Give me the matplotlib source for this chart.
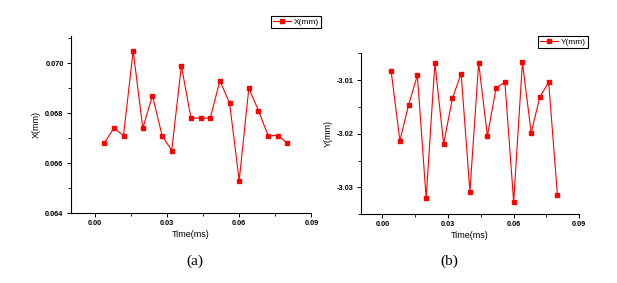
import matplotlib
matplotlib.use("Agg")
import matplotlib.pyplot as plt
from matplotlib.ticker import MultipleLocator

# time axis, shared by both panels
time_ms = [0.004, 0.008, 0.012, 0.016, 0.020, 0.024, 0.028, 0.032, 0.036, 0.040,
           0.044, 0.048, 0.052, 0.056, 0.060, 0.064, 0.068, 0.072, 0.076, 0.080]

# displacement
x_mm = [0.0668, 0.0674, 0.0671, 0.0705, 0.0674, 0.0687, 0.0671, 0.0665, 0.0699, 0.0678,
        0.0678, 0.0678, 0.0693, 0.0684, 0.0653, 0.0690, 0.0681, 0.0671, 0.0671, 0.0668]
y_mm = [-3.0083, -3.0213, -3.0146, -3.0091, -3.0320, -3.0068, -3.0219, -3.0134, -3.0088, -3.0308,
        -3.0068, -3.0204, -3.0114, -3.0104, -3.0327, -3.0067, -3.0198, -3.0131, -3.0104, -3.0314]

W, H = 617, 283
fig = plt.figure(figsize=(W / 100, H / 100), dpi=100)
plt.rcParams['font.family'] = ['Liberation Sans', 'DejaVu Sans']

red = '#ff0000'


def style_axes(ax, ylab, ymajor, yfmt):
    for s in ['top', 'right']:
        ax.spines[s].set_visible(False)
    for s in ['left', 'bottom']:
        ax.spines[s].set_linewidth(0.8)
    ax.set_xlim(-0.01, 0.09)
    ax.xaxis.set_major_locator(MultipleLocator(0.03))
    ax.xaxis.set_minor_locator(MultipleLocator(0.015))
    ax.yaxis.set_major_locator(MultipleLocator(ymajor))
    ax.yaxis.set_minor_locator(MultipleLocator(ymajor / 2))
    ax.xaxis.set_major_formatter(lambda v, p: f"{v:.2f}")
    ax.yaxis.set_major_formatter(yfmt)
    ax.tick_params(which='major', direction='out', length=3, width=0.7,
                   labelsize=5.3, pad=2)
    ax.tick_params(which='minor', direction='out', length=2, width=0.6)
    for lab in ax.get_xticklabels() + ax.get_yticklabels():
        lab.set_fontweight('bold')
    ax.set_xlabel('Time(ms)', fontsize=6.5, labelpad=2)
    ax.set_ylabel(ylab, fontsize=6.5, labelpad=3)


# panel (a)
ax1 = fig.add_axes([70.5 / W, 1 - 213 / H, 241 / W, 177.3 / H])
ax1.plot(time_ms, x_mm, color=red, lw=0.8, marker='s', ms=3.3, label='X(mm)')
ax1.set_ylim(0.064, 0.0711)
style_axes(ax1, 'X(mm)', 0.002, lambda v, p: f"{v:.3f}")
for lab in ax1.get_xticklabels() + ax1.get_yticklabels():
    lab.set_fontweight('bold')
ax1.legend(loc='upper right', bbox_to_anchor=(321 / W, 1 - 16 / H),
           bbox_transform=fig.transFigure, fontsize=6, frameon=True,
           fancybox=False, edgecolor='black', framealpha=1, borderpad=0.25,
           handlelength=2.2, handletextpad=0.3, borderaxespad=0)

# panel (b)
ax2 = fig.add_axes([360.5 / W, 1 - 214.3 / H, 218.8 / W, 161 / H])
ax2.plot(time_ms, y_mm, color=red, lw=0.8, marker='s', ms=3.3, label='Y(mm)')
ax2.set_ylim(-3.035, -3.005)
style_axes(ax2, 'Y(mm)', 0.01, lambda v, p: f"{v:.2f}")
for lab in ax2.get_xticklabels() + ax2.get_yticklabels():
    lab.set_fontweight('bold')
ax2.legend(loc='upper right', bbox_to_anchor=(588 / W, 1 - 36 / H),
           bbox_transform=fig.transFigure, fontsize=6, frameon=True,
           fancybox=False, edgecolor='black', framealpha=1, borderpad=0.25,
           handlelength=2.2, handletextpad=0.3, borderaxespad=0)

for leg in [ax1.get_legend(), ax2.get_legend()]:
    leg.get_frame().set_linewidth(0.8)

fig.text(194.5 / W, 1 - 261 / H, '(a)', family=['Liberation Serif', 'DejaVu Serif'],
         fontsize=11, ha='center', va='center')
fig.text(449 / W, 1 - 261 / H, '(b)', family=['Liberation Serif', 'DejaVu Serif'],
         fontsize=11, ha='center', va='center')

fig.savefig('out.png', dpi=100)
